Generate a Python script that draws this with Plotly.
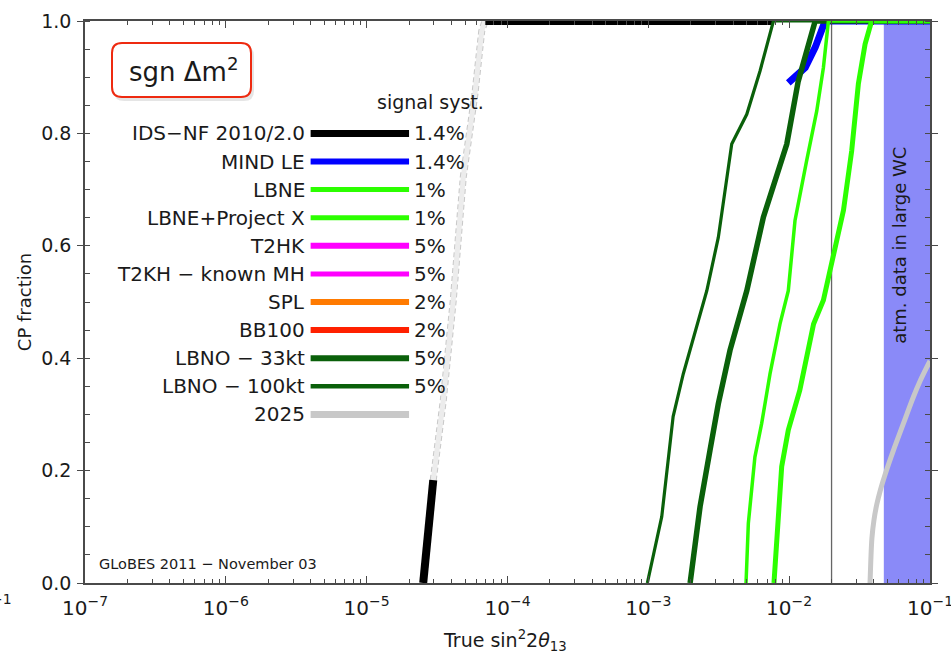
import math
import plotly.graph_objects as go

# ---- curves: true sin^2(2 theta13) vs. CP fraction ----
ids_x = [2.52e-5, 2.97e-5, None, 6.92e-5, 7.7e-3]
ids_y = [0.0, 0.183, None, 1.0, 1.0]

ids_mid_x = [2.97e-5, 3.5e-5, 4.12e-5, 4.85e-5, 5.87e-5, 6.56e-5, 6.92e-5]
ids_mid_y = [0.183, 0.325, 0.503, 0.722, 0.870, 0.982, 1.0]

mind_x = [9.86e-3, 1.30e-2, 1.53e-2, 1.80e-2, 1e-1]
mind_y = [0.890, 0.917, 0.953, 1.0, 1.0]

lbne_x = [4.94e-3, 5.13e-3, 5.71e-3, 6.38e-3, 7.31e-3, 8.61e-3, 9.86e-3,
          1.10e-2, 1.33e-2, 1.57e-2, 1.75e-2, 1.90e-2, 1e-1]
lbne_y = [0.0, 0.106, 0.224, 0.284, 0.372, 0.461, 0.52,
          0.645, 0.751, 0.840, 0.917, 1.0, 1.0]

lbnepx_x = [7.80e-3, 8.16e-3, 8.85e-3, 9.86e-3, 1.19e-2, 1.49e-2, 1.75e-2,
            1.95e-2, 2.43e-2, 2.78e-2, 3.10e-2, 3.46e-2, 3.85e-2, 1e-1]
lbnepx_y = [0.0, 0.076, 0.207, 0.272, 0.343, 0.461, 0.503,
            0.556, 0.663, 0.769, 0.888, 0.959, 1.0, 1.0]

lbno33_x = [1.98e-3, 2.33e-3, 2.74e-3, 3.14e-3, 3.80e-3, 5.0e-3, 6.56e-3,
            9.62e-3, 1.16e-2, 1.33e-2, 1.53e-2, 1e-1]
lbno33_y = [0.0, 0.136, 0.236, 0.319, 0.414, 0.52, 0.651,
            0.781, 0.893, 0.947, 1.0, 1.0]

lbno100_x = [9.84e-4, 1.245e-3, 1.50e-3, 1.77e-3, 2.60e-3, 3.14e-3, 3.91e-3,
             5.0e-3, 6.21e-3, 7.73e-3, 1e-1]
lbno100_y = [0.0, 0.118, 0.296, 0.372, 0.52, 0.615, 0.781,
             0.834, 0.911, 1.0, 1.0]

y2025_x = [3.75e-2, 3.80e-2, 3.87e-2, 4.00e-2, 4.19e-2, 4.45e-2, 4.80e-2, 5.50e-2,
           6.48e-2, 7.62e-2, 8.60e-2, 9.49e-2, 1e-1]
y2025_y = [0.0, 0.040, 0.080, 0.112, 0.140, 0.166, 0.193, 0.236,
           0.284, 0.331, 0.362, 0.384, 0.395]

# reference value of sin^2(2 theta13) and the atmospheric-data band
theta_ref = 0.02
atm_band = [0.047, 0.1]

# ---- legend table ----
leg_labels = ["IDS\u2212NF 2010/2.0", "MIND LE", "LBNE", "LBNE+Project X", "T2HK",
              "T2KH \u2212 known MH", "SPL", "BB100", "LBNO \u2212 33kt",
              "LBNO \u2212 100kt", "2025"]
leg_syst = ["1.4%", "1.4%", "1%", "1%", "5%", "5%", "2%", "2%", "5%", "5%", ""]
leg_y = [0.80, 0.75, 0.70, 0.65, 0.60, 0.55, 0.50, 0.45, 0.40, 0.35, 0.30]
leg_x = [4e-6, 2e-5]

x_ticks = [1e-7, 1e-6, 1e-5, 1e-4, 1e-3, 1e-2, 1e-1]
x_ticktext = ["10<sup>\u22127</sup>", "10<sup>\u22126</sup>", "10<sup>\u22125</sup>",
              "10<sup>\u22124</sup>", "10<sup>\u22123</sup>", "10<sup>\u22122</sup>",
              "10<sup>\u22121</sup>"]

C_BLACK = "#000000"
C_BLUE = "#0000ff"
C_LGREEN = "#2cff00"
C_MAGENTA = "#ff00ff"
C_ORANGE = "#ff7a00"
C_RED = "#ff2000"
C_DGREEN = "#0a600a"
C_GRAY = "#c8c8c8"
leg_colors = [C_BLACK, C_BLUE, C_LGREEN, C_LGREEN, C_MAGENTA, C_MAGENTA,
              C_ORANGE, C_RED, C_DGREEN, C_DGREEN, C_GRAY]
leg_widths = [7, 6, 5, 5, 6, 5, 6, 6, 6, 4.5, 7]

FONT = "DejaVu Sans"
TXT = "#1a1a1a"
AX = "#4a4a4a"

fig = go.Figure()


def line(x, y, color, width, dash="solid", shape="linear"):
    fig.add_trace(go.Scatter(x=x, y=y, mode="lines", hoverinfo="skip",
                             line=dict(color=color, width=width, dash=dash, shape=shape),
                             showlegend=False))


# atmospheric data band
fig.add_trace(go.Scatter(x=[atm_band[0], atm_band[1], atm_band[1], atm_band[0], atm_band[0]],
                         y=[0, 0, 1, 1, 0], mode="lines", fill="toself",
                         fillcolor="#8a8af8", line=dict(width=0), hoverinfo="skip",
                         showlegend=False))
# reference line
line([theta_ref, theta_ref], [0, 1], "#666666", 1.3)

# 2025 curve
line(y2025_x, y2025_y, C_GRAY, 5, shape="spline")
# IDS-NF middle part (light band with dashed edges)
line(ids_mid_x, ids_mid_y, "#c8c8c8", 7, "5px,3px")
line(ids_mid_x, ids_mid_y, "#ececec", 5)
# IDS-NF
line(ids_x, ids_y, C_BLACK, 8)
# MIND LE
line(mind_x, mind_y, C_BLUE, 7)
# LBNO
line(lbno33_x, lbno33_y, C_DGREEN, 5.5)
line(lbno100_x, lbno100_y, C_DGREEN, 3.2)
# LBNE
line(lbne_x, lbne_y, C_LGREEN, 3.5)
line(lbnepx_x, lbnepx_y, C_LGREEN, 5)

# legend swatches
for yv, c, w in zip(leg_y, leg_colors, leg_widths):
    line(leg_x, [yv, yv], c, w)

annotations = []
for lab, syst, yv in zip(leg_labels, leg_syst, leg_y):
    annotations.append(dict(x=math.log10(3.75e-6), y=yv, xref="x", yref="y", text=lab,
                            showarrow=False, xanchor="right", yanchor="middle",
                            font=dict(family=FONT, size=20, color=TXT)))
    if syst:
        annotations.append(dict(x=math.log10(2.1e-5), y=yv, xref="x", yref="y", text=syst,
                                showarrow=False, xanchor="left", yanchor="middle",
                                font=dict(family=FONT, size=20, color=TXT)))

annotations += [
    dict(x=-4.55, y=0.855, xref="x", yref="y", text="signal syst.", showarrow=False,
         xanchor="center", yanchor="middle", font=dict(family=FONT, size=19, color=TXT)),
    dict(x=-1.213, y=0.60, xref="x", yref="y", text="atm. data in large WC",
         showarrow=False, textangle=-90, xanchor="center", yanchor="middle",
         font=dict(family=FONT, size=18, color=TXT)),
    dict(x=0.014, y=0.033, xref="paper", yref="paper", text="GLoBES 2011 \u2212 November 03",
         showarrow=False, xanchor="left", yanchor="middle",
         font=dict(family=FONT, size=14.5, color=TXT)),
    dict(x=0.116, y=0.912, xref="paper", yref="paper", text="sgn \u0394m<sup>2</sup>",
         showarrow=False, xanchor="center", yanchor="middle",
         font=dict(family=FONT, size=26, color=TXT)),
    dict(x=0.497, y=-0.102, xref="paper", yref="paper",
         text="True sin<sup>2</sup>2<i>\u03b8</i><sub>13</sub>",
         showarrow=False, xanchor="center", yanchor="middle",
         font=dict(family=FONT, size=19, color=TXT)),
    dict(x=-0.072, y=0.50, xref="paper", yref="paper", text="CP fraction",
         showarrow=False, textangle=-90, xanchor="center", yanchor="middle",
         font=dict(family=FONT, size=18, color=TXT)),
    dict(x=-0.084, y=-0.028, xref="paper", yref="paper", text="\u22121",
         showarrow=False, xanchor="right", yanchor="middle",
         font=dict(family=FONT, size=14, color=TXT)),
]

# rounded box around the panel label (paper coordinates)
PL, PW, PT, PH = 85, 845, 21, 562


def to_paper(px, py):
    return (px - PL) / PW, (PT + PH - py) / PH


def rounded(px0, py0, px1, py1, r):
    x0, y1 = to_paper(px0, py0)
    x1, y0 = to_paper(px1, py1)
    rx, ry = r / PW, r / PH
    return (f"M {x0 + rx},{y1} L {x1 - rx},{y1} Q {x1},{y1} {x1},{y1 - ry} "
            f"L {x1},{y0 + ry} Q {x1},{y0} {x1 - rx},{y0} L {x0 + rx},{y0} "
            f"Q {x0},{y0} {x0},{y0 + ry} L {x0},{y1 - ry} Q {x0},{y1} {x0 + rx},{y1} Z")


shapes = [
    dict(type="path", xref="paper", yref="paper", path=rounded(114, 46, 254, 101, 10),
         fillcolor="rgba(0,0,0,0.10)", line=dict(width=0), layer="above"),
    dict(type="path", xref="paper", yref="paper", path=rounded(112, 43, 251, 97, 10),
         fillcolor="white", line=dict(color="#ee2a10", width=2), layer="above"),
]

minor_x = [k * 10.0 ** e for e in range(-7, -1) for k in range(2, 10)]

fig.update_layout(
    width=951, height=660,
    margin=dict(l=85, r=21, t=21, b=77),
    paper_bgcolor="white", plot_bgcolor="white",
    showlegend=False,
    annotations=annotations,
    shapes=shapes,
    xaxis=dict(type="log", range=[-7, -1], tickmode="array", tickvals=x_ticks,
               ticktext=x_ticktext, automargin=False, ticklabeloverflow="allow",
               ticks="inside", ticklen=7, tickwidth=1, tickcolor=AX,
               showline=True, linecolor=AX, linewidth=1.5, mirror="ticks",
               showgrid=False, zeroline=False, ticklabelstandoff=6,
               tickfont=dict(family=FONT, size=20, color=TXT),
               minor=dict(tickvals=minor_x, ticks="inside", ticklen=4,
                          tickcolor=AX, tickwidth=1, showgrid=False)),
    yaxis=dict(range=[0, 1], tick0=0, dtick=0.2, tickformat=".1f", automargin=False,
               ticks="outside", ticklen=6, tickwidth=1, tickcolor=AX,
               showline=True, linecolor=AX, linewidth=1.5, mirror="ticks",
               showgrid=False, zeroline=False, ticklabelstandoff=2,
               tickfont=dict(family=FONT, size=19, color=TXT),
               minor=dict(dtick=0.05, ticks="inside", ticklen=5,
                          tickcolor=AX, tickwidth=1, showgrid=False)),
)

fig.write_html("out.html")
